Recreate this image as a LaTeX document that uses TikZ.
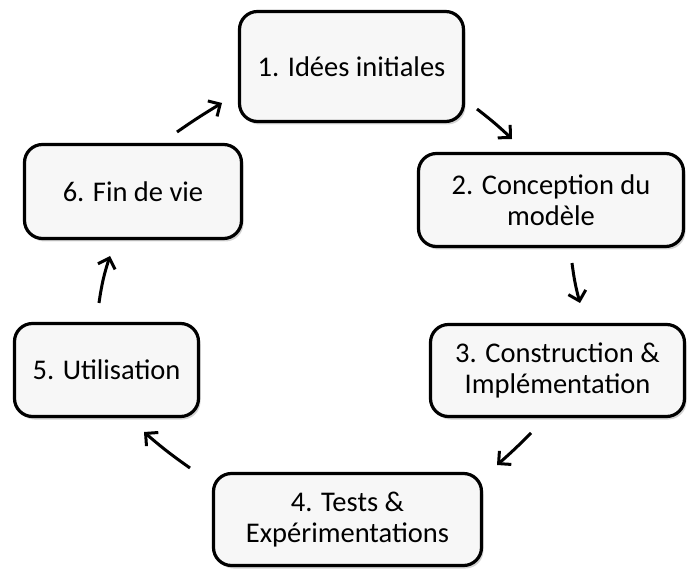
\documentclass[tikz,border=0pt]{standalone}
\usepackage{fontspec}
\setmainfont{Carlito}
\usetikzlibrary{shadows,arrows.meta}
\begin{document}
\begin{tikzpicture}[x=1pt,y=-1pt,
  stage/.style={draw=black, line width=3.2pt, rounded corners=18pt, fill=gray!6,
    align=center, font=\fontsize{28.5}{31}\selectfont, inner sep=0pt,
    drop shadow={shadow xshift=2pt, shadow yshift=-3pt, opacity=0.35, fill=gray}},
  flow/.style={line width=3pt, -{Straight Barb[length=9pt,width=18pt,line width=3pt]}}]
\useasboundingbox (0,0) rectangle (688,569);
\node[stage, minimum width=224pt, minimum height=110pt] (b1) at (351.5,66.5) {1. Idées initiales};
\node[stage, minimum width=265pt, minimum height=93pt] (b2) at (551,200) {2. Conception du\\modèle};
\node[stage, minimum width=254pt, minimum height=92pt] (b3) at (557.5,370.5) {3. Construction \&\\Implémentation};
\node[stage, minimum width=268pt, minimum height=92pt] (b4) at (347.5,519.5) {4. Tests \&\\Expérimentations};
\node[stage, minimum width=184pt, minimum height=93pt] (b5) at (106.5,370) {5. Utilisation};
\node[stage, minimum width=217pt, minimum height=94pt] (b6) at (133,191.5) {6. Fin de vie};
\coordinate (a12s) at (477,109); \coordinate (a12e) at (512,139);
\coordinate (a23s) at (572,263); \coordinate (a23e) at (580,303);
\coordinate (a34s) at (531,433); \coordinate (a34e) at (497,465);
\coordinate (a45s) at (190,468); \coordinate (a45e) at (144,432);
\coordinate (a56s) at (99,303); \coordinate (a56e) at (110,256);
\coordinate (a61s) at (177,132); \coordinate (a61e) at (222,103);
\draw[flow] (a12s) to[bend left=3] (a12e);
\draw[flow] (a23s) to[bend right=4] (a23e);
\draw[flow] (a34s) to[bend left=2] (a34e);
\draw[flow] (a45s) to[bend left=3] (a45e);
\draw[flow] (a56s) to[bend left=5] (a56e);
\draw[flow] (a61s) to[bend left=2] (a61e);
\end{tikzpicture}
\end{document}
